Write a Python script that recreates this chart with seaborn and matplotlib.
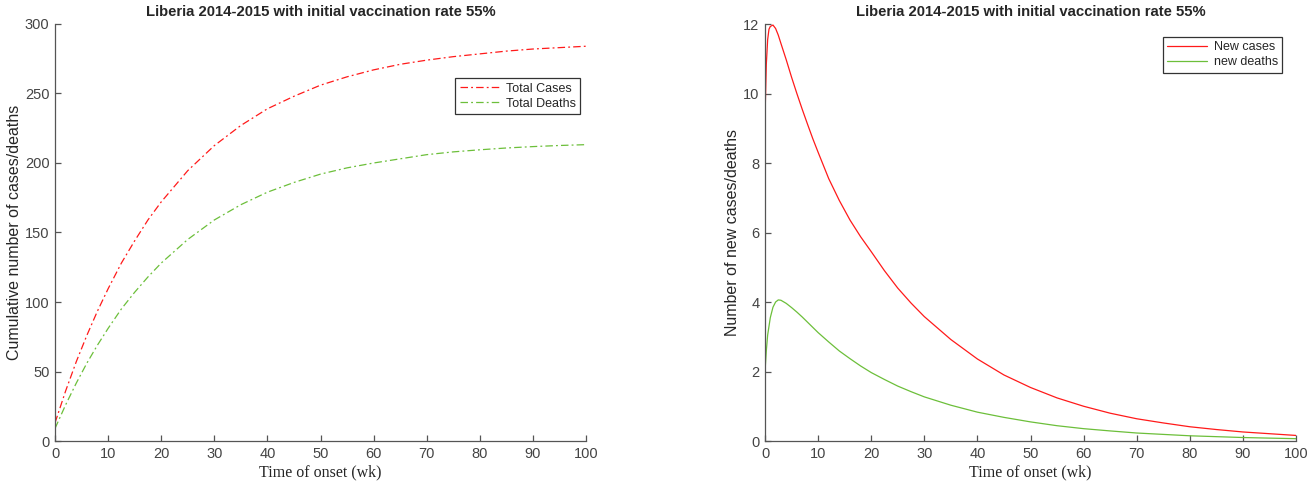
import numpy as np
import pandas as pd
import matplotlib
matplotlib.use('Agg')
import matplotlib.pyplot as plt
import seaborn as sns

# %% Data
title = 'Liberia 2014-2015 with initial vaccination rate 55%'

weeks_cum = [0, 2, 4, 6, 8, 10, 12.5, 15, 17.5, 20, 25, 30, 35, 40, 45, 50,
             55, 60, 65, 70, 75, 80, 85, 90, 95, 100]
total_cases = [13, 36, 57, 76, 93.5, 109.5, 128, 144, 159, 172, 194.5, 212.5,
               227, 239, 248, 256, 262, 267, 271, 274, 276.5, 278.5, 280.5,
               282, 283, 284]
total_deaths = [9, 26, 41.6, 56, 69, 81, 95, 107, 118, 128, 145, 159, 170,
                179, 186, 192, 196.5, 200, 203, 206, 208, 209.5, 210.8, 211.8,
                212.6, 213.2]

weeks_new = [0, 0.25, 0.5, 0.75, 1, 1.5, 2, 2.5, 3, 4, 5, 6, 7, 8, 9, 10, 12,
             14, 16, 18, 20, 22.5, 25, 27.5, 30, 35, 40, 45, 50, 55, 60, 65,
             70, 75, 80, 85, 90, 95, 100]
new_cases = [9.3, 10.85, 11.55, 11.85, 11.93, 11.97, 11.87, 11.68, 11.44,
             10.97, 10.47, 10.0, 9.55, 9.12, 8.7, 8.31, 7.55, 6.92, 6.36,
             5.88, 5.45, 4.9, 4.4, 3.97, 3.58, 2.92, 2.36, 1.9, 1.54, 1.24,
             1.0, 0.8, 0.64, 0.52, 0.41, 0.33, 0.26, 0.21, 0.16]
new_deaths = [2.0, 2.6, 3.05, 3.3, 3.55, 3.85, 4.0, 4.06, 4.05, 3.96, 3.84,
              3.71, 3.57, 3.42, 3.27, 3.12, 2.85, 2.59, 2.37, 2.16, 1.97,
              1.77, 1.58, 1.42, 1.27, 1.03, 0.83, 0.68, 0.55, 0.44, 0.355,
              0.29, 0.23, 0.19, 0.15, 0.125, 0.1, 0.083, 0.067]

cum = pd.DataFrame({'week': weeks_cum, 'cases': total_cases, 'deaths': total_deaths})
new = pd.DataFrame({'week': weeks_new, 'cases': new_cases, 'deaths': new_deaths})

# %% Style
sns.set_style('white')
plt.rcParams['font.family'] = ['Liberation Sans', 'DejaVu Sans']
text_col = '#262626'
axis_col = '#555555'
red = '#ff1a1a'
green = '#6cbf3a'

fig = plt.figure(figsize=(13.14, 4.9), dpi=100)
ax1 = fig.add_axes([55/1314, 1 - 441/490, 531/1314, 417/490])
ax2 = fig.add_axes([765/1314, 1 - 441/490, 531/1314, 417/490])

# Left: cumulative
sns.lineplot(data=cum, x='week', y='cases', ax=ax1, color=red, lw=0.9,
             linestyle='-.', label='Total Cases')
sns.lineplot(data=cum, x='week', y='deaths', ax=ax1, color=green, lw=0.9,
             linestyle='-.', label='Total Deaths')
for ln in ax1.lines:
    ln.set_dashes([6, 2.5, 1.5, 2.5])
ax1.set_ylim(0, 300)
ax1.set_yticks(np.arange(0, 301, 50))
ax1.set_ylabel('Cumulative number of cases/deaths', fontsize=11.5,
               color=text_col, labelpad=2)

# Right: new cases/deaths
sns.lineplot(data=new, x='week', y='cases', ax=ax2, color=red, lw=0.9, label='New cases')
sns.lineplot(data=new, x='week', y='deaths', ax=ax2, color=green, lw=0.9, label='new deaths')
ax2.set_ylim(0, 12)
ax2.set_yticks(np.arange(0, 13, 2))
ax2.set_ylabel('Number of new cases/deaths', fontsize=11.5,
               color=text_col, labelpad=2)

legend_pos = {ax1: (0.989, 0.870), ax2: (0.974, 0.969)}
for ax in (ax1, ax2):
    ax.set_xlim(0, 100)
    ax.set_xticks(np.arange(0, 101, 10))
    ax.set_xlabel('Time of onset (wk)', fontsize=11.5, color=text_col,
                  family=['Liberation Serif', 'DejaVu Serif'], labelpad=3)
    ax.set_title(title, fontsize=10.7, fontweight='bold', color=text_col, pad=6)
    for side in ('top', 'right'):
        ax.spines[side].set_visible(False)
    for side in ('left', 'bottom'):
        ax.spines[side].set_color(axis_col)
        ax.spines[side].set_linewidth(0.9)
    ax.tick_params(direction='in', length=4, width=0.9, color=axis_col,
                   labelsize=10.5, labelcolor='#444444', pad=4,
                   left=True, bottom=True)
    leg = ax.legend(loc='upper right', bbox_to_anchor=legend_pos[ax],
                    fontsize=9, frameon=True, fancybox=False, framealpha=1,
                    edgecolor='#333333', handlelength=3.2, handletextpad=0.5,
                    borderpad=0.35, labelspacing=0.25, borderaxespad=0)
    leg.get_frame().set_linewidth(0.9)
    for t in leg.get_texts():
        t.set_color(text_col)

fig.savefig('out.png', dpi=100)
